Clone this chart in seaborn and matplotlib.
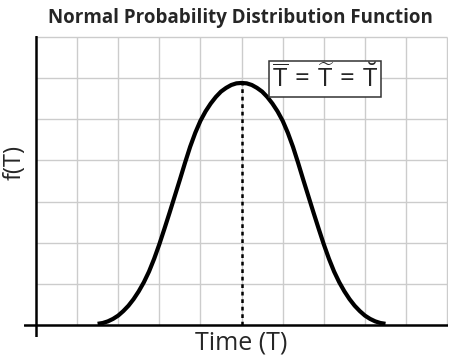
import numpy as np
import pandas as pd
import matplotlib
matplotlib.use("Agg")
import matplotlib.pyplot as plt
import seaborn as sns

# curve (grid units: 10 columns x 7 rows)
time_t = [1.5, 1.625, 1.75, 1.875, 2.0, 2.125, 2.25, 2.375, 2.5, 2.625, 2.75, 2.875,
          3.0, 3.125, 3.25, 3.375, 3.5, 3.625, 3.75, 3.875, 4.0, 4.125, 4.25, 4.375,
          4.5, 4.625, 4.75, 4.875, 5.0, 5.125, 5.25, 5.375, 5.5, 5.625, 5.75, 5.875,
          6.0, 6.125, 6.25, 6.375, 6.5, 6.625, 6.75, 6.875, 7.0, 7.125, 7.25, 7.375,
          7.5, 7.625, 7.75, 7.875, 8.0, 8.125, 8.25, 8.375, 8.5]
f_t = [0.03, 0.05, 0.09, 0.15, 0.23, 0.34, 0.47, 0.63, 0.82, 1.04, 1.30, 1.61,
       1.96, 2.34, 2.73, 3.13, 3.53, 3.94, 4.33, 4.67, 4.96, 5.19, 5.38, 5.54,
       5.67, 5.76, 5.83, 5.87, 5.88, 5.87, 5.83, 5.76, 5.67, 5.54, 5.38, 5.19,
       4.96, 4.67, 4.33, 3.94, 3.53, 3.13, 2.73, 2.34, 1.96, 1.61, 1.30, 1.04,
       0.82, 0.63, 0.47, 0.34, 0.23, 0.15, 0.09, 0.05, 0.03]
mean_t, peak_f = 5.0, 5.88
grid_x = list(range(1, 11))
grid_y = list(range(1, 8))

title = "Normal Probability Distribution Function"
x_label = "Time (T)"
y_label = "f(T)"
box_label = (r"$\overline{\mathrm{T}}\,=\,\widetilde{\mathrm{T}}"
             r"\,=\,\breve{\mathrm{T}}$")

df = pd.DataFrame({"t": time_t, "f": f_t})

sns.set_style("white")
plt.rcParams["font.family"] = ["Open Sans", "DejaVu Sans"]
plt.rcParams["mathtext.fontset"] = "custom"
plt.rcParams["mathtext.rm"] = "Open Sans"
plt.rcParams["mathtext.it"] = "Open Sans:italic"
plt.rcParams["mathtext.bf"] = "Open Sans:bold"

fig = plt.figure(figsize=(4.5, 3.6), dpi=100)
ax = fig.add_axes([24 / 450, 23 / 360, 424 / 450, 301 / 360])

# grid
ax.hlines(grid_y, 0, 10, color="#cccccc", lw=1, zorder=1)
ax.vlines(grid_x, 0, 7, color="#cccccc", lw=1, zorder=1)

# crossing axes
ax.axhline(0, color="black", lw=1.8, zorder=3)
ax.axvline(0, color="black", lw=1.8, zorder=3)

sns.lineplot(data=df, x="t", y="f", ax=ax, color="black", lw=3, sort=False,
             zorder=4)
ax.lines[-1].set_solid_capstyle("butt")
ax.lines[-1].set_solid_joinstyle("round")
ax.vlines(mean_t, 0, peak_f, color="black", lw=1.8, linestyles=(0, (1.5, 1.5)),
          zorder=2)

ax.text(7.03, 5.98, box_label, fontsize=18.5, ha="center", va="center", zorder=5,
        bbox=dict(boxstyle="square,pad=0.12", fc="white", ec="#333333", lw=1.1))

ax.set_xlim(-0.29, 10.02)
ax.set_ylim(-0.29, 7.02)
ax.set_xticks([])
ax.set_yticks([])
for s in ax.spines.values():
    s.set_visible(False)

ax.set_xlabel(x_label, fontsize=18, labelpad=0)
ax.xaxis.label.set_va("baseline")
ax.xaxis.set_label_coords((241 - 24) / 424, (337 - 350) / 301)
ax.set_ylabel(y_label, fontsize=17, labelpad=0)
ax.yaxis.label.set_va("baseline")
ax.yaxis.set_label_coords((21 - 24) / 424, (337 - 163) / 301)
fig.text(240 / 450, 1 - 23 / 360, title, fontsize=13.5, fontweight="bold",
         ha="center", va="baseline")

fig.savefig("out.png", dpi=100)
